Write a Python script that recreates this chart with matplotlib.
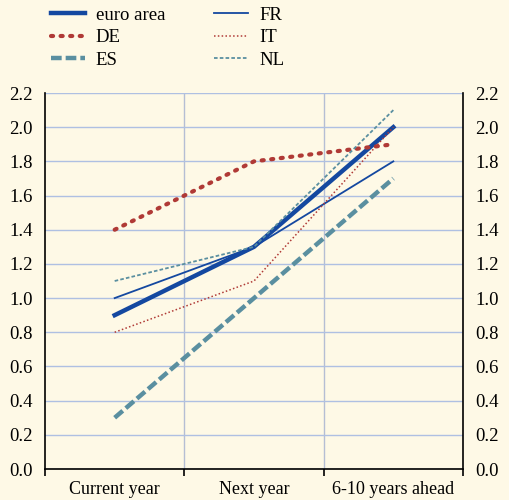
import matplotlib
matplotlib.use("Agg")
import matplotlib.pyplot as plt

categories = ["Current year", "Next year", "6-10 years ahead"]
euro_area = [0.9, 1.3, 2.0]
de = [1.4, 1.8, 1.9]
es = [0.3, 1.0, 1.7]
fr = [1.0, 1.3, 1.8]
it = [0.8, 1.1, 2.0]
nl = [1.1, 1.3, 2.1]
yticks = [0.0, 0.2, 0.4, 0.6, 0.8, 1.0, 1.2, 1.4, 1.6, 1.8, 2.0, 2.2]

bg = "#FEF9E6"
dark_blue = "#1448A0"
red = "#B03A36"
teal = "#5A8FA0"

plt.rcParams["font.family"] = ["Liberation Serif", "DejaVu Serif"]

fig = plt.figure(figsize=(5.09, 5.00), dpi=100, facecolor=bg)
ax = fig.add_axes([45 / 509, 1 - 469 / 500, 418 / 509, 376 / 500], facecolor=bg)

x = [0.5, 1.5, 2.5]
styles = [
    ("euro area", euro_area, dict(color=dark_blue, lw=3.2, ls="-")),
    ("DE", de, dict(color=red, lw=3.0, ls=(0, (0.5, 1.8)), dash_capstyle="round")),
    ("ES", es, dict(color=teal, lw=3.2, ls=(0, (2.4, 0.9)))),
    ("FR", fr, dict(color=dark_blue, lw=1.3, ls="-")),
    ("IT", it, dict(color=red, lw=1.1, ls=(0, (1, 1.5)))),
    ("NL", nl, dict(color=teal, lw=1.3, ls=(0, (2, 1.2)))),
]
handles = []
for name, vals, st in styles:
    line, = ax.plot(x, vals, label=name, zorder=3, **st)
    handles.append(line)

ax.set_xlim(0, 3)
ax.set_ylim(0, 2.2)
ax.set_yticks(yticks)
ax.set_yticklabels([f"{v:.1f}" for v in yticks])
ax.yaxis.grid(True, color="#AFC0E2", lw=1.0, zorder=0)
for b in [1, 2]:
    ax.axvline(b, color="#B5BED4", lw=1.0, zorder=0)

ax.set_xticks([0, 1, 2, 3])
ax.set_xticklabels([])
ax.set_xticks(x, minor=True)
ax.set_xticklabels(categories, minor=True, fontsize=13)
ax.tick_params(axis="x", which="major", direction="out", length=5, width=1.2, color="black")
ax.tick_params(axis="x", which="minor", length=0, pad=9)
ax.tick_params(axis="y", which="both", length=0, labelsize=13.5, left=True, right=True,
               labelleft=True, labelright=True, pad=9)

for s in ["left", "right", "bottom"]:
    ax.spines[s].set_color("black")
    ax.spines[s].set_linewidth(1.2)
ax.spines["top"].set_visible(False)

fig.legend(handles, [s[0] for s in styles],
           loc="upper left", bbox_to_anchor=(34 / 509, 1.02), ncol=2,
           frameon=False, fontsize=13.5, handlelength=1.8, handletextpad=0.6,
           columnspacing=2.6, labelspacing=0.28)

fig.savefig("out.png", dpi=100, facecolor=bg)
